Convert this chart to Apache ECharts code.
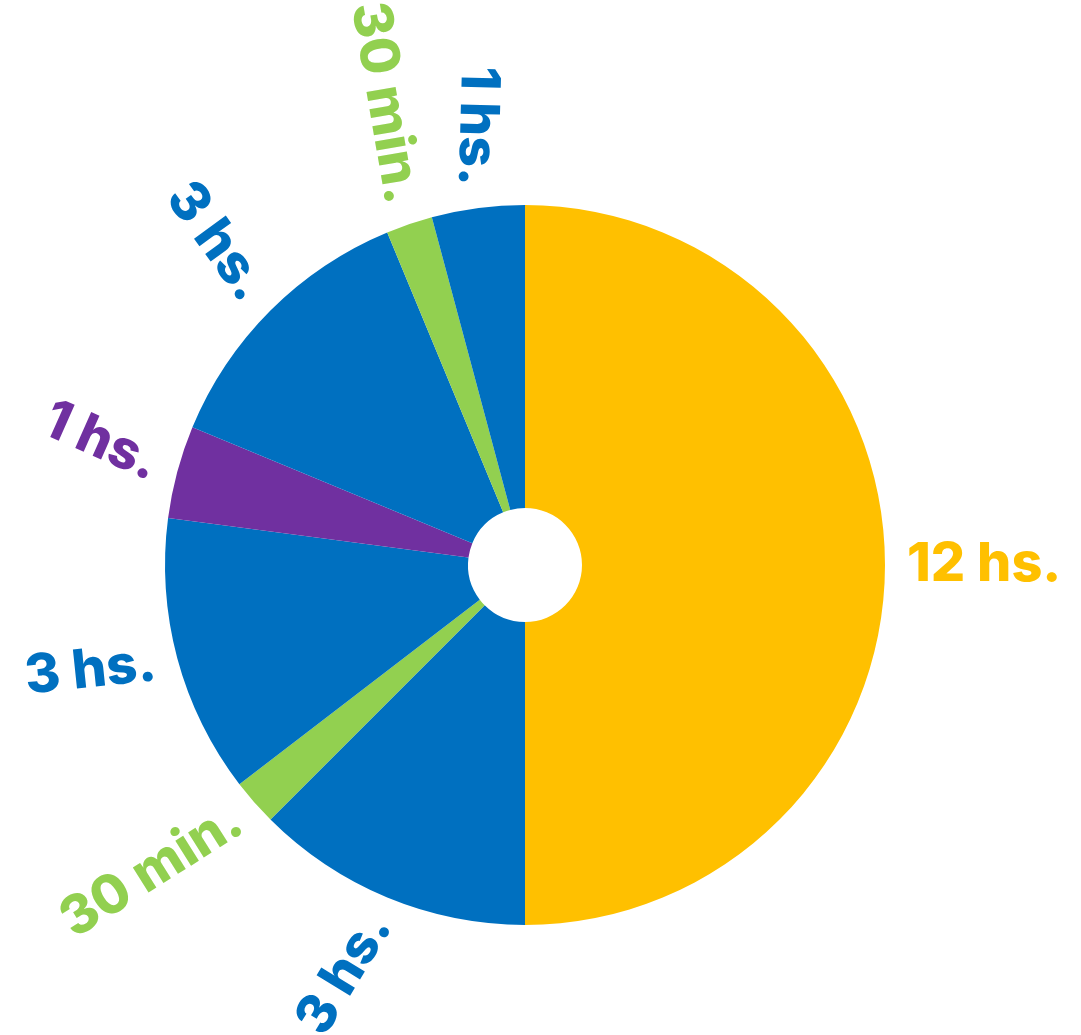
<!DOCTYPE html>
<html><head><meta charset="utf-8">
<script src="https://cdn.jsdelivr.net/npm/echarts@6/dist/echarts.min.js"></script>
<style>html,body{margin:0;padding:0;background:#fff}#c{width:1081px;height:1035px}</style>
</head><body><div id="c"></div>
<script>
const categories = ['12 hs.', '3 hs.', '30 min.', '3 hs.', '1 hs.', '3 hs.', '30 min.', '1 hs.'];
const minutes = [720, 180, 30, 180, 60, 180, 30, 60];
const colors = ['#FFC000', '#0070C0', '#92D050', '#0070C0', '#7030A0', '#0070C0', '#92D050', '#0070C0'];

const total = minutes.reduce((a, b) => a + b, 0);
let acc = 0;
const data = minutes.map((v, i) => {
  const mid = (acc + v / 2) / total * 360; // clockwise from top
  acc += v;
  const dx = Math.sin(mid * Math.PI / 180);
  const rot = dx > 0.001 ? 90 - mid : 270 - mid - 9;
  return {
    name: categories[i],
    value: v,
    itemStyle: { color: colors[i] },
    label: { rotate: rot, color: colors[i] }
  };
});

const chart = echarts.init(document.getElementById('c'));
chart.setOption({
  animation: false,
  series: [{
    type: 'pie',
    center: [525, 565],
    radius: [57, 360],
    startAngle: 90,
    clockwise: true,
    avoidLabelOverlap: false,
    silent: true,
    label: {
      show: true,
      position: 'outside',
      formatter: '{b}',
      fontFamily: 'Inter',
      fontWeight: 800,
      fontSize: 54,
      distanceToLabelLine: 0
    },
    labelLine: { show: false, length: 22, length2: 0 },
    itemStyle: { borderWidth: 0 },
    data: data
  }]
});
</script>
</body></html>
